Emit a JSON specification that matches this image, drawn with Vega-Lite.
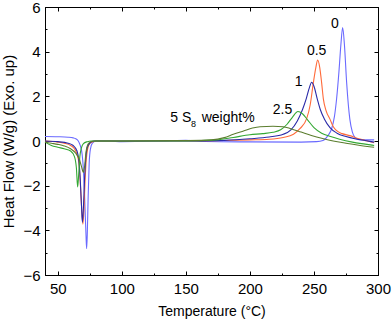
{
  "$schema": "https://vega.github.io/schema/vega-lite/v6.json",
  "width": 333,
  "height": 268,
  "autosize": "none",
  "padding": {"left": 45, "top": 7, "right": 14, "bottom": 46},
  "background": "white",
  "config": {
    "view": {"stroke": "black", "strokeWidth": 1},
    "axis": {
      "labelFont": "Liberation Sans",
      "titleFont": "Liberation Sans",
      "labelColor": "black",
      "titleColor": "black",
      "domainColor": "black",
      "tickColor": "black",
      "grid": false,
      "titleFontWeight": "normal",
      "labelFontSize": 15
    },
    "text": {"font": "Liberation Sans"}
  },
  "datasets": {
    "curves": [
      {"series": "0", "T": 40, "v": 0.2}, {"series": "0", "T": 50, "v": 0.19}, {"series": "0", "T": 58, "v": 0.17}, {"series": "0", "T": 62, "v": 0.14}, {"series": "0", "T": 64, "v": 0.1}, {"series": "0", "T": 66, "v": 0.0}, {"series": "0", "T": 67.5, "v": -0.2}, {"series": "0", "T": 69, "v": -0.6}, {"series": "0", "T": 70, "v": -1.3}, {"series": "0", "T": 71, "v": -2.6}, {"series": "0", "T": 72, "v": -4.2}, {"series": "0", "T": 72.5, "v": -4.82}, {"series": "0", "T": 73, "v": -4.2}, {"series": "0", "T": 73.7, "v": -2.5}, {"series": "0", "T": 74.5, "v": -1.0}, {"series": "0", "T": 75.5, "v": -0.35}, {"series": "0", "T": 77, "v": -0.1}, {"series": "0", "T": 80, "v": 0.0}, {"series": "0", "T": 90, "v": 0.0}, {"series": "0", "T": 100, "v": -0.03}, {"series": "0", "T": 140, "v": 0.02}, {"series": "0", "T": 150, "v": 0.03}, {"series": "0", "T": 165, "v": -0.02}, {"series": "0", "T": 200, "v": -0.04}, {"series": "0", "T": 240, "v": -0.05}, {"series": "0", "T": 252, "v": -0.03}, {"series": "0", "T": 257, "v": 0.02}, {"series": "0", "T": 261, "v": 0.25}, {"series": "0", "T": 263.8, "v": 0.55}, {"series": "0", "T": 266, "v": 1.1}, {"series": "0", "T": 267.7, "v": 1.9}, {"series": "0", "T": 269.5, "v": 3.1}, {"series": "0", "T": 271, "v": 4.3}, {"series": "0", "T": 272.4, "v": 5.08}, {"series": "0", "T": 273.8, "v": 4.3}, {"series": "0", "T": 275.5, "v": 2.63}, {"series": "0", "T": 278, "v": 0.98}, {"series": "0", "T": 280, "v": 0.4}, {"series": "0", "T": 282, "v": 0.16}, {"series": "0", "T": 285, "v": 0.06}, {"series": "0", "T": 290, "v": 0.05}, {"series": "0", "T": 297, "v": 0.05},

      {"series": "0.5", "T": 40, "v": 0.0}, {"series": "0.5", "T": 50, "v": -0.05}, {"series": "0.5", "T": 55, "v": -0.1}, {"series": "0.5", "T": 60, "v": -0.2}, {"series": "0.5", "T": 63, "v": -0.35}, {"series": "0.5", "T": 65, "v": -0.6}, {"series": "0.5", "T": 66.5, "v": -1.0}, {"series": "0.5", "T": 67.5, "v": -1.8}, {"series": "0.5", "T": 68.5, "v": -2.9}, {"series": "0.5", "T": 69.6, "v": -3.72}, {"series": "0.5", "T": 70.4, "v": -3.1}, {"series": "0.5", "T": 71.2, "v": -1.9}, {"series": "0.5", "T": 72.2, "v": -0.85}, {"series": "0.5", "T": 73.3, "v": -0.35}, {"series": "0.5", "T": 74.8, "v": -0.12}, {"series": "0.5", "T": 77, "v": -0.04}, {"series": "0.5", "T": 80, "v": 0.0}, {"series": "0.5", "T": 100, "v": 0.0}, {"series": "0.5", "T": 150, "v": 0.0}, {"series": "0.5", "T": 180, "v": 0.02}, {"series": "0.5", "T": 200, "v": 0.05}, {"series": "0.5", "T": 215, "v": 0.08}, {"series": "0.5", "T": 226, "v": 0.16}, {"series": "0.5", "T": 234, "v": 0.3}, {"series": "0.5", "T": 239, "v": 0.55}, {"series": "0.5", "T": 244.3, "v": 1.0}, {"series": "0.5", "T": 247, "v": 1.6}, {"series": "0.5", "T": 249.5, "v": 2.6}, {"series": "0.5", "T": 251.5, "v": 3.3}, {"series": "0.5", "T": 252.9, "v": 3.63}, {"series": "0.5", "T": 254.5, "v": 3.3}, {"series": "0.5", "T": 256, "v": 2.6}, {"series": "0.5", "T": 257.3, "v": 1.9}, {"series": "0.5", "T": 259.5, "v": 1.35}, {"series": "0.5", "T": 262.5, "v": 0.98}, {"series": "0.5", "T": 265, "v": 0.65}, {"series": "0.5", "T": 267.7, "v": 0.46}, {"series": "0.5", "T": 272, "v": 0.33}, {"series": "0.5", "T": 278, "v": 0.24}, {"series": "0.5", "T": 285, "v": 0.1}, {"series": "0.5", "T": 291, "v": 0.01}, {"series": "0.5", "T": 297, "v": -0.08},

      {"series": "1", "T": 40, "v": 0.0}, {"series": "1", "T": 50, "v": -0.03}, {"series": "1", "T": 58, "v": -0.1}, {"series": "1", "T": 62, "v": -0.2}, {"series": "1", "T": 65, "v": -0.45}, {"series": "1", "T": 66.5, "v": -0.9}, {"series": "1", "T": 67.5, "v": -1.7}, {"series": "1", "T": 68.5, "v": -2.9}, {"series": "1", "T": 69.2, "v": -3.65}, {"series": "1", "T": 70, "v": -3.0}, {"series": "1", "T": 70.8, "v": -1.8}, {"series": "1", "T": 71.8, "v": -0.8}, {"series": "1", "T": 73, "v": -0.3}, {"series": "1", "T": 75, "v": -0.1}, {"series": "1", "T": 78, "v": 0.0}, {"series": "1", "T": 100, "v": 0.0}, {"series": "1", "T": 150, "v": 0.0}, {"series": "1", "T": 180, "v": 0.03}, {"series": "1", "T": 200, "v": 0.1}, {"series": "1", "T": 215, "v": 0.18}, {"series": "1", "T": 226, "v": 0.3}, {"series": "1", "T": 232, "v": 0.5}, {"series": "1", "T": 237, "v": 0.9}, {"series": "1", "T": 241, "v": 1.4}, {"series": "1", "T": 244, "v": 1.9}, {"series": "1", "T": 246.5, "v": 2.4}, {"series": "1", "T": 248.2, "v": 2.63}, {"series": "1", "T": 250, "v": 2.45}, {"series": "1", "T": 252.5, "v": 1.9}, {"series": "1", "T": 255, "v": 1.4}, {"series": "1", "T": 258, "v": 1.0}, {"series": "1", "T": 262.5, "v": 0.6}, {"series": "1", "T": 268, "v": 0.35}, {"series": "1", "T": 275, "v": 0.2}, {"series": "1", "T": 283, "v": 0.09}, {"series": "1", "T": 290, "v": 0.02}, {"series": "1", "T": 297, "v": -0.05},

      {"series": "2.5", "T": 40, "v": -0.05}, {"series": "2.5", "T": 45, "v": -0.2}, {"series": "2.5", "T": 50, "v": -0.28}, {"series": "2.5", "T": 55, "v": -0.35}, {"series": "2.5", "T": 60, "v": -0.45}, {"series": "2.5", "T": 63, "v": -0.7}, {"series": "2.5", "T": 64.5, "v": -1.2}, {"series": "2.5", "T": 65.5, "v": -2.06}, {"series": "2.5", "T": 66.3, "v": -1.5}, {"series": "2.5", "T": 67.2, "v": -0.7}, {"series": "2.5", "T": 68.5, "v": -0.3}, {"series": "2.5", "T": 70, "v": -0.12}, {"series": "2.5", "T": 73, "v": -0.03}, {"series": "2.5", "T": 76, "v": 0.0}, {"series": "2.5", "T": 100, "v": 0.0}, {"series": "2.5", "T": 150, "v": 0.0}, {"series": "2.5", "T": 174, "v": 0.05}, {"series": "2.5", "T": 187, "v": 0.16}, {"series": "2.5", "T": 200, "v": 0.28}, {"series": "2.5", "T": 210, "v": 0.33}, {"series": "2.5", "T": 218, "v": 0.39}, {"series": "2.5", "T": 224, "v": 0.5}, {"series": "2.5", "T": 229, "v": 0.75}, {"series": "2.5", "T": 233, "v": 1.05}, {"series": "2.5", "T": 237.5, "v": 1.32}, {"series": "2.5", "T": 241, "v": 1.22}, {"series": "2.5", "T": 245, "v": 0.95}, {"series": "2.5", "T": 250, "v": 0.6}, {"series": "2.5", "T": 256, "v": 0.35}, {"series": "2.5", "T": 263, "v": 0.2}, {"series": "2.5", "T": 270, "v": 0.08}, {"series": "2.5", "T": 280, "v": -0.05}, {"series": "2.5", "T": 290, "v": -0.14}, {"series": "2.5", "T": 297, "v": -0.2},

      {"series": "5", "T": 40, "v": -0.05}, {"series": "5", "T": 45, "v": -0.1}, {"series": "5", "T": 50, "v": -0.15}, {"series": "5", "T": 55, "v": -0.22}, {"series": "5", "T": 60, "v": -0.35}, {"series": "5", "T": 64, "v": -0.55}, {"series": "5", "T": 67, "v": -0.85}, {"series": "5", "T": 68.5, "v": -1.15}, {"series": "5", "T": 70, "v": -1.4}, {"series": "5", "T": 71, "v": -1.1}, {"series": "5", "T": 72, "v": -0.5}, {"series": "5", "T": 73.5, "v": -0.15}, {"series": "5", "T": 76, "v": -0.02}, {"series": "5", "T": 80, "v": 0.0}, {"series": "5", "T": 100, "v": 0.0}, {"series": "5", "T": 150, "v": 0.02}, {"series": "5", "T": 170, "v": 0.05}, {"series": "5", "T": 180, "v": 0.15}, {"series": "5", "T": 187, "v": 0.3}, {"series": "5", "T": 195, "v": 0.45}, {"series": "5", "T": 202, "v": 0.58}, {"series": "5", "T": 208, "v": 0.64}, {"series": "5", "T": 218, "v": 0.66}, {"series": "5", "T": 226, "v": 0.64}, {"series": "5", "T": 232, "v": 0.55}, {"series": "5", "T": 240, "v": 0.4}, {"series": "5", "T": 248, "v": 0.25}, {"series": "5", "T": 256, "v": 0.12}, {"series": "5", "T": 265, "v": 0.0}, {"series": "5", "T": 275, "v": -0.1}, {"series": "5", "T": 285, "v": -0.19}, {"series": "5", "T": 297, "v": -0.28}
    ],
    "labels": [
      {"text": "0", "T": 266.4, "v": 5.05, "part": "main"},
      {"text": "0.5", "T": 252.1, "v": 3.85, "part": "main"},
      {"text": "1", "T": 238.0, "v": 2.45, "part": "main"},
      {"text": "2.5", "T": 225.4, "v": 1.21, "part": "main"},
      {"text": "5 S", "T": 146.0, "v": 0.84, "part": "main"},
      {"text": "weight%", "T": 183.0, "v": 0.84, "part": "main"},
      {"text": "8", "T": 156.0, "v": 0.64, "part": "sub"}
    ]
  },
  "resolve": {"axis": {"x": "independent", "y": "independent"}},
  "layer": [
    {
      "data": {"name": "curves"},
      "mark": {"type": "line", "strokeWidth": 1.1, "interpolate": "monotone"},
      "encoding": {
        "x": {
          "field": "T", "type": "quantitative",
          "scale": {"domain": [40, 300], "nice": false, "zero": false},
          "axis": {
            "orient": "bottom", "title": "Temperature (°C)", "titleFontSize": 14,
            "values": [50, 75, 100, 125, 150, 175, 200, 225, 250, 275, 300],
            "labelExpr": "datum.value % 50 === 0 ? datum.label : ''",
            "tickSize": {"condition": {"test": "datum.value % 50 === 0", "value": -4}, "value": -2},
            "labelPadding": 10, "titlePadding": 8, "labelFlush": false
          }
        },
        "y": {
          "field": "v", "type": "quantitative",
          "scale": {"domain": [-6, 6], "nice": false, "zero": false},
          "axis": {
            "orient": "left", "title": "Heat Flow (W/g) (Exo. up)", "titleFontSize": 15,
            "values": [-6, -5, -4, -3, -2, -1, 0, 1, 2, 3, 4, 5, 6],
            "labelExpr": "datum.value % 2 === 0 ? datum.label : ''",
            "tickSize": {"condition": {"test": "datum.value % 2 === 0", "value": -4}, "value": -2},
            "labelPadding": 9, "titlePadding": 6, "labelFlush": false
          }
        },
        "color": {
          "field": "series", "type": "nominal",
          "scale": {"domain": ["0", "0.5", "1", "2.5", "5"], "range": ["#6a6aff", "#ff6a3a", "#2a2aa8", "#34a834", "#5b7d2e"]},
          "legend": null
        }
      }
    },
    {
      "data": {"name": "labels"},
      "transform": [{"filter": "datum.part === 'main'"}],
      "mark": {"type": "text", "fontSize": 14, "align": "center", "baseline": "alphabetic", "color": "black"},
      "encoding": {
        "x": {"field": "T", "type": "quantitative", "axis": null},
        "y": {"field": "v", "type": "quantitative", "axis": null},
        "text": {"field": "text"}
      }
    },
    {
      "data": {"name": "labels"},
      "transform": [{"filter": "datum.part === 'sub'"}],
      "mark": {"type": "text", "fontSize": 9, "align": "center", "baseline": "alphabetic", "color": "black"},
      "encoding": {
        "x": {"field": "T", "type": "quantitative", "axis": null},
        "y": {"field": "v", "type": "quantitative", "axis": null},
        "text": {"field": "text"}
      }
    },
    {
      "data": {"name": "curves"},
      "mark": {"type": "line", "opacity": 0},
      "encoding": {
        "x": {
          "field": "T", "type": "quantitative",
          "axis": {
            "orient": "top", "title": null, "labels": false,
            "values": [50, 75, 100, 125, 150, 175, 200, 225, 250, 275, 300],
            "tickSize": {"condition": {"test": "datum.value % 50 === 0", "value": -4}, "value": -2}
          }
        },
        "y": {
          "field": "v", "type": "quantitative",
          "axis": {
            "orient": "right", "title": null, "labels": false,
            "values": [-6, -5, -4, -3, -2, -1, 0, 1, 2, 3, 4, 5, 6],
            "tickSize": {"condition": {"test": "datum.value % 2 === 0", "value": -4}, "value": -2}
          }
        },
        "detail": {"field": "series"}
      }
    }
  ]
}
